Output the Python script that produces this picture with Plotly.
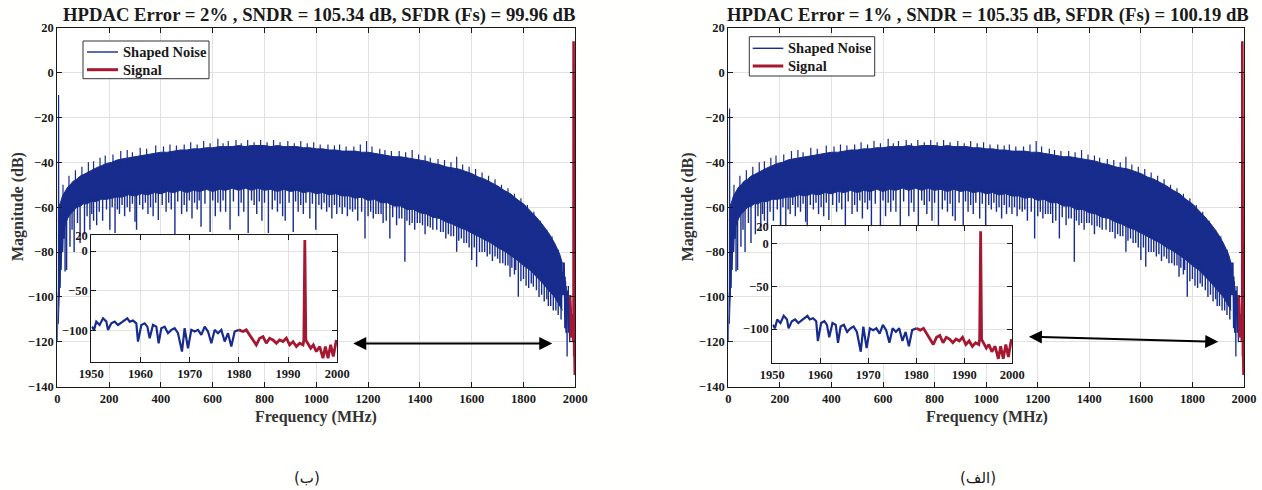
import numpy as np
import plotly.graph_objects as go

# ---------------- data ----------------
titles = ["HPDAC Error = 2% , SNDR = 105.34 dB, SFDR (Fs) = 99.96 dB",
          "HPDAC Error = 1% , SNDR = 105.35 dB, SFDR (Fs) = 100.19 dB"]
panel_labels = ["(ب)", "(الف)"]
x_title = "Frequency (MHz)"
y_title = "Magnitude (dB)"
series_names = ["Shaped Noise", "Signal"]

main_xticks = [0, 200, 400, 600, 800, 1000, 1200, 1400, 1600, 1800, 2000]
main_yticks = [20, 0, -20, -40, -60, -80, -100, -120, -140]
inset_xticks = [1950, 1960, 1970, 1980, 1990, 2000]
inset_yticks = [20, 0, -50, -100]

# shaped-noise band: upper and lower edge of the dense band (MHz, dB)
noise_f = [4, 8, 12, 16, 20, 25, 30, 40, 50, 60, 75, 90, 100, 115, 130, 150,
           170, 190, 210, 230,
           250, 275, 300, 325, 350, 375, 400, 425, 450, 475,
           500, 525, 550, 575, 600, 625, 650, 675, 700, 725,
           750, 775, 800, 825, 850, 875, 900, 925, 950, 975,
           1000, 1025, 1050, 1075, 1100, 1125, 1150, 1175, 1200, 1225,
           1250, 1275, 1300, 1325, 1350, 1375, 1400, 1425, 1450, 1475,
           1500, 1525, 1550, 1575, 1600, 1625, 1650, 1675, 1700, 1725,
           1750, 1775, 1800, 1825, 1850, 1875, 1900, 1920, 1940, 1950]
noise_hi = [-66, -59, -58, -56, -55, -54, -53, -51, -50, -48.5, -47.5, -46, -45.5, -44.5, -43.5, -42.5,
            -41.5, -40.5, -40, -39,
            -38.5, -38, -37.5, -37, -36.5, -36, -35.5, -35.5, -35, -34.5,
            -34.5, -34, -34, -33.5, -33.5, -33, -33, -33, -32.5, -33,
            -32.5, -32.5, -32.5, -33, -32.5, -33, -33, -33, -33.5, -33.5,
            -34, -34, -34.5, -34.5, -35, -35, -35, -35.5, -35.5, -36,
            -36.5, -37, -37.5, -37.5, -38, -38.5, -39, -39.5, -40.5, -41,
            -42, -42.5, -43, -44, -45, -46.5, -47.5, -49, -50.5, -52.5,
            -54, -56.5, -58.5, -61.5, -64.5, -68, -72, -76, -81, -85]
noise_lo = [-112, -92, -84, -78, -74, -70, -68, -65, -63, -62, -60, -59.5, -58.5, -58.5, -57.5, -57.5,
            -56.5, -56.5, -56, -55.5,
            -55.5, -54.5, -55, -54, -54.5, -53.5, -54, -53, -53.5, -52.5,
            -53.5, -52.5, -53, -52, -53, -52, -52.5, -51.5, -52.5, -51.5,
            -52.5, -51.5, -52.5, -52, -53, -52, -53, -52.5, -53.5, -53,
            -54, -53.5, -54.5, -54, -55, -55, -56, -55.5, -57, -56.5,
            -58, -58, -59.5, -59.5, -61, -61, -62.5, -63, -64.5, -65,
            -66.5, -67.5, -69, -70, -71.5, -73, -74.5, -76, -78, -79.5,
            -81.5, -83.5, -86, -88, -91, -94, -97.5, -100, -104, -106]

# upward noise peaks above the dense band (MHz, dB)
peak_f = [22, 45, 70, 95, 120, 140, 165, 185, 215, 245, 270, 290, 320, 345, 380, 410,
          435, 460, 490, 515, 540, 565, 590, 620, 640, 660, 690, 710, 735, 760, 785,
          810, 835, 860, 890, 915, 940, 965, 990, 1015, 1045, 1070, 1090, 1115, 1145,
          1170, 1194, 1215, 1245, 1265, 1290, 1320, 1345, 1370, 1395, 1420, 1440, 1470,
          1495, 1520, 1542, 1565, 1590, 1615, 1640, 1665, 1690, 1715, 1740, 1765, 1790,
          1815, 1840, 1865, 1890, 1910, 1935]
peak_db = [-50, -46, -43.5, -42, -40, -39.5, -38, -37, -36.5, -35, -34.5, -35.5, -33.5, -34, -32.5, -33,
           -32, -32.5, -32, -31, -32, -30.5, -31.5, -29.5, -31.5, -30.5, -30, -31.5, -30, -31, -30,
           -31, -30, -31, -30.5, -31.5, -30.5, -31.5, -31, -32, -32, -32.5, -32, -33, -33,
           -32, -30.5, -33, -34, -34.5, -35, -35, -35.5, -34.5, -36.5, -37, -38, -38.5,
           -39, -40, -37.5, -41, -42, -43, -44.5, -46, -47.5, -50, -51.5, -54, -56,
           -59, -62, -66, -70, -73, -79]

# downward noise dips below the dense band (MHz, dB)
dip_f = [30, 36, 49, 65, 88, 105, 126, 140, 152, 175, 203, 223, 240, 260, 280,
         300, 306, 330, 350, 370, 390, 420, 440, 454, 480, 500, 520, 540, 555,
         590, 610, 630, 650, 667, 700, 720, 737, 770, 790, 815, 830, 850, 870,
         880, 911, 930, 950, 975, 998, 1020, 1040, 1060, 1079, 1100, 1120, 1140,
         1160, 1188, 1200, 1220, 1240, 1258, 1270, 1284, 1310, 1330, 1342, 1360,
         1380, 1400, 1420, 1440, 1465, 1480, 1500, 1520, 1542, 1560, 1570, 1590,
         1600, 1619, 1630, 1650, 1660, 1680, 1700, 1709, 1720, 1730, 1748, 1765,
         1780, 1790, 1800, 1810, 1820, 1838, 1850, 1860, 1870, 1880, 1890, 1896,
         1905, 1915, 1925, 1934, 1945,
         57, 78, 115, 133, 162, 190, 212, 232, 250, 270, 290, 318, 340, 360, 380,
         405, 430, 465, 490, 510, 530, 548, 570, 600, 620, 640, 680, 710, 750, 760,
         780, 800, 840, 860, 895, 920, 940, 960, 985, 1010, 1030, 1050, 1070, 1090,
         1110, 1130, 1150, 1175, 1210, 1230, 1250, 1295, 1320, 1350, 1370, 1390, 1410,
         1430, 1450, 1490, 1510, 1530, 1550, 1580, 1610, 1640, 1670, 1690, 1740, 1755,
         1770, 1830]
dip_db = [-88.7, -88, -77.6, -80, -76, -72, -70, -66, -68, -66, -70, -71.5, -63, -64, -62,
          -66.5, -70, -61, -63, -64, -65.7, -62, -61, -72.5, -63, -62, -65, -61, -68.7,
          -71, -64, -62, -62, -70, -64, -62, -71.5, -63, -66, -71.5, -61, -62, -64,
          -66, -71, -62, -63, -65, -70, -61, -62, -65, -63, -63, -64, -62,
          -66, -73.9, -64, -65, -63, -67, -66, -73.9, -68, -65, -84.3, -68,
          -70, -67, -72, -69, -70, -71, -74, -73, -79.8, -74, -76, -78,
          -83.5, -86.5, -80, -80, -82, -84, -83, -85, -85, -86, -91, -90,
          -99.9, -93, -92, -95, -96, -95.4, -97, -100, -99, -102, -101, -104,
          -104, -106, -106, -108, -110,
          -70, -67, -64, -63, -62, -61, -60, -61, -59, -60, -58.5, -59, -58, -60, -58,
          -59, -58, -57.5, -59, -57, -58, -57, -58.5, -57, -58, -57, -57.5, -58, -57, -59,
          -57.5, -58, -57, -58.5, -58, -57.5, -59, -58, -58.5, -59, -58, -60, -59, -60,
          -60, -61, -61, -62, -62, -63, -63, -64.5, -65, -66, -67, -67, -68,
          -68.5, -70, -71, -72, -73, -75, -76, -78, -80, -81, -82, -86, -87,
          -88, -94]

# low-frequency start of the spectrum (MHz, dB); the DC-side tone is per panel
lf_f = [0, 1, 2, 3, 4, 6, 7, 9, 11, 13, 15, 18, 21, 24, 27, 30]
lf_db = [-120, -100, -118, -98, -104, -92, -100, -82, -96, -75, -88, -70, -80, -66, -74, -62]
tone_f = 5
tone_db = [-10, -16]

# 1950-1980 MHz shaped noise (zoomed view)
tail_f = [1950.14, 1950.55, 1951.02, 1951.70, 1952.38, 1953.06, 1953.39, 1954.07, 1954.75,
          1955.43, 1956.10, 1956.78, 1957.32, 1957.80, 1958.48, 1959.15, 1959.49, 1960.17,
          1960.85, 1961.39, 1961.86, 1962.54, 1963.22, 1963.69, 1964.23, 1964.91, 1965.59,
          1966.27, 1966.94, 1967.62, 1968.43, 1968.97, 1969.65, 1970.33, 1971.01, 1971.69,
          1972.36, 1973.04, 1973.72, 1974.40, 1975.07, 1975.75, 1976.43, 1977.11, 1977.78,
          1978.46, 1979.14, 1980.0]
tail_db = [-95.1, -99.2, -88.8, -93.0, -84.6, -88.8, -99.2, -90.9, -88.8,
           -93.0, -90.0, -86.7, -84.6, -88.8, -87.5, -90.9, -113.9, -93.0,
           -90.9, -95.1, -109.7, -93.0, -95.1, -116.0, -97.1, -95.1, -103.4,
           -99.2, -97.1, -103.4, -126.5, -97.1, -122.3, -99.2, -101.3, -99.2,
           -105.5, -95.1, -101.3, -116.0, -99.2, -103.4, -99.2, -113.9, -103.4,
           -120.2, -101.3, -99.2]

# 1980-2000 MHz signal band (with the tone near 1993.4 MHz)
sig_f = [1980.0, 1980.83, 1981.50, 1982.19, 1982.86, 1983.54, 1984.22, 1984.90, 1985.57,
         1986.25, 1986.93, 1987.61, 1988.29, 1988.96, 1989.64, 1990.32, 1991.00, 1991.68,
         1992.35, 1993.03, 1993.2, 1993.4, 1993.6, 1994.04, 1994.59, 1995.13, 1995.74,
         1996.42, 1997.09, 1997.57, 1998.11, 1998.65, 1999.19, 1999.80]
sig_db = [-99.2, -101.3, -99.2, -105.5, -111.8, -118.1, -109.7, -107.6, -116.0,
          -109.7, -111.8, -116.0, -111.8, -113.9, -109.7, -118.1, -113.9, -120.2,
          -116.0, -118.1, -112.0, 14.0, -112.0, -116.0, -122.3, -118.1, -126.5,
          -120.2, -134.8, -120.2, -134.8, -118.1, -132.7, -111.8]

# zoom arrows (MHz, dB): [tail_x, tail_y, head_x, head_y]
zoom_arrows = [[1137, -120.8, 1911, -120.8], [1160, -117.7, 1900, -120.0]]

# ---------------- styling / layout ----------------
BLUE = "#172c8c"
RED = "#a51832"
INK = "#1a1a1a"
FONT = "Liberation Serif"
W, H = 1262, 490

panels = [
    dict(main=(57.3, 575.3, 27.7, 386.7), inset=(91.3, 337.3, 235.2, 362.3),
         legend_box=(83, 209, 41, 78.7), legend_rows=(52, 69.7), legend_line=(87, 118),
         title_x=318.5, xt_x=316, yt_x=18, lab_x=306.7),
    dict(main=(728.3, 1244.0, 27.7, 386.7), inset=(772.3, 1012.3, 226.2, 363.3),
         legend_box=(749.3, 874.7, 36.7, 76), legend_rows=(48.3, 66), legend_line=(752.7, 783.3),
         title_x=988.3, xt_x=986.5, yt_x=688.3, lab_x=977.5),
]


def dom_x(a, b):
    return [a / W, b / W]


def dom_y(top, bottom):
    return [1 - bottom / H, 1 - top / H]


def px(v):
    return v / W


def py(v):
    return 1 - v / H


def segments(fs, vals, base_f, base_v, offset):
    sx, sy = [], []
    for f, d in zip(fs, vals):
        start = float(np.interp(f, base_f, base_v)) + offset
        sx += [f, f, None]
        sy += [start, d, None]
    return sx, sy


fig = go.Figure()
annotations = []
shapes = []
layout_axes = {}

dip_x, dip_y = segments(dip_f, dip_db, noise_f, noise_lo, 3)
peak_x, peak_y = segments(peak_f, peak_db, noise_f, noise_hi, -3)

for i, p in enumerate(panels):
    k = 2 * i
    xm, ym = f"x{k + 1 if k else ''}", f"y{k + 1 if k else ''}"
    xi, yi = f"x{k + 2}", f"y{k + 2}"

    # dense band (filled between lower and upper edges)
    fig.add_trace(go.Scatter(x=noise_f, y=noise_lo, mode="lines", line=dict(color=BLUE, width=1),
                             xaxis=xm, yaxis=ym, showlegend=False, hoverinfo="skip",
                             name=series_names[0]))
    fig.add_trace(go.Scatter(x=noise_f, y=noise_hi, mode="lines", line=dict(color=BLUE, width=1),
                             fill="tonexty", fillcolor=BLUE, name=series_names[0],
                             xaxis=xm, yaxis=ym, showlegend=False, hoverinfo="skip"))
    fig.add_trace(go.Scatter(x=dip_x, y=dip_y, mode="lines", line=dict(color=BLUE, width=1.4),
                             xaxis=xm, yaxis=ym, name=series_names[0], showlegend=False))
    fig.add_trace(go.Scatter(x=peak_x, y=peak_y, mode="lines", line=dict(color=BLUE, width=1.2),
                             xaxis=xm, yaxis=ym, name=series_names[0], showlegend=False))
    lfx = lf_f[:5] + [tone_f] + lf_f[5:]
    lfy = lf_db[:5] + [tone_db[i]] + lf_db[5:]
    fig.add_trace(go.Scatter(x=lfx, y=lfy, mode="lines", line=dict(color=BLUE, width=1.2),
                             xaxis=xm, yaxis=ym, name=series_names[0], showlegend=False))
    fig.add_trace(go.Scatter(x=tail_f, y=tail_db, mode="lines", line=dict(color=BLUE, width=1.3),
                             xaxis=xm, yaxis=ym, name=series_names[0], showlegend=False))
    fig.add_trace(go.Scatter(x=sig_f, y=sig_db, mode="lines", line=dict(color=RED, width=2.6),
                             xaxis=xm, yaxis=ym, name=series_names[1], showlegend=False))
    # inset
    fig.add_trace(go.Scatter(x=tail_f, y=tail_db, mode="lines", line=dict(color=BLUE, width=2.2),
                             xaxis=xi, yaxis=yi, name=series_names[0], showlegend=False))
    fig.add_trace(go.Scatter(x=sig_f, y=sig_db, mode="lines", line=dict(color=RED, width=2.8),
                             xaxis=xi, yaxis=yi, name=series_names[1], showlegend=False))

    common = dict(showline=True, linecolor=INK, linewidth=1.3, mirror="ticks", ticks="inside",
                  ticklen=5, tickwidth=1, tickcolor=INK, showgrid=True, gridcolor="#e2e2e2",
                  gridwidth=1, zeroline=False, automargin=False,
                  tickfont=dict(family=FONT, size=12.5, color=INK, weight="bold"))
    mx0, mx1, my0, my1 = p["main"]
    ix0, ix1, iy0, iy1 = p["inset"]
    xm_key = "xaxis" if k == 0 else f"xaxis{k + 1}"
    ym_key = "yaxis" if k == 0 else f"yaxis{k + 1}"
    layout_axes[xm_key] = dict(domain=dom_x(mx0, mx1), range=[0, 2000], tickvals=main_xticks,
                               anchor=ym, **common)
    layout_axes[ym_key] = dict(domain=dom_y(my0, my1), range=[-140, 20], tickvals=main_yticks,
                               anchor=xm, **common)
    layout_axes[f"xaxis{k + 2}"] = dict(domain=dom_x(ix0, ix1), range=[1950, 2000],
                                        tickvals=inset_xticks, anchor=yi, **common)
    layout_axes[f"yaxis{k + 2}"] = dict(domain=dom_y(iy0, iy1), range=[-140, 20],
                                        tickvals=inset_yticks, anchor=xi, **common)

    # legend (box, line samples, labels)
    bx0, bx1, by0, by1 = p["legend_box"]
    shapes.append(dict(type="rect", xref="paper", yref="paper", x0=px(bx0), x1=px(bx1),
                       y0=py(by1), y1=py(by0), line=dict(color="#333333", width=1),
                       fillcolor="white", layer="above"))
    lx0, lx1 = p["legend_line"]
    for r, (name, col, wdt) in enumerate(zip(series_names, [BLUE, RED], [1.4, 3])):
        ry = p["legend_rows"][r]
        shapes.append(dict(type="line", xref="paper", yref="paper", x0=px(lx0), x1=px(lx1),
                           y0=py(ry), y1=py(ry), line=dict(color=col, width=wdt), layer="above"))
        annotations.append(dict(text=name, x=px(lx1 + 2.5), y=py(ry), xref="paper", yref="paper",
                                showarrow=False, xanchor="left", yanchor="middle",
                                font=dict(family=FONT, size=14.5, color=INK, weight="bold")))

    annotations.append(dict(text=titles[i], x=px(p["title_x"]), y=py(15), xref="paper",
                            yref="paper", showarrow=False, xanchor="center", yanchor="middle",
                            font=dict(family=FONT, size=18.7, color=INK, weight="bold")))
    annotations.append(dict(text=x_title, x=px(p["xt_x"]), y=py(417), xref="paper",
                            yref="paper", showarrow=False, xanchor="center", yanchor="middle",
                            font=dict(family=FONT, size=16, color="#333333", weight="bold")))
    annotations.append(dict(text=y_title, x=px(p["yt_x"]), y=py(207), xref="paper",
                            yref="paper", showarrow=False, xanchor="center", yanchor="middle",
                            textangle=-90,
                            font=dict(family=FONT, size=16, color="#333333", weight="bold")))
    annotations.append(dict(text=panel_labels[i], x=px(p["lab_x"]), y=py(478), xref="paper",
                            yref="paper", showarrow=False, xanchor="center", yanchor="middle",
                            font=dict(family="DejaVu Sans", size=15, color=INK, weight="normal")))
    ax0, ay0, ax1, ay1 = zoom_arrows[i]
    annotations.append(dict(text="", x=ax1, y=ay1, ax=ax0, ay=ay0, xref=xm, yref=ym,
                            axref=xm, ayref=ym, showarrow=True, arrowhead=2, startarrowhead=2,
                            arrowside="end+start", arrowsize=1.3, startarrowsize=1.3,
                            arrowwidth=2, arrowcolor="black"))

fig.update_layout(width=W, height=H, margin=dict(l=0, r=0, t=0, b=0),
                  paper_bgcolor="#fffffe", plot_bgcolor="white",
                  font=dict(family=FONT, size=12.5, color=INK, weight="bold"),
                  annotations=annotations, shapes=shapes, showlegend=False, **layout_axes)

fig.write_html("out.html", config={"displayModeBar": False},
               post_script="document.body.style.margin='0';"
                           "document.documentElement.style.overflow='hidden';")
